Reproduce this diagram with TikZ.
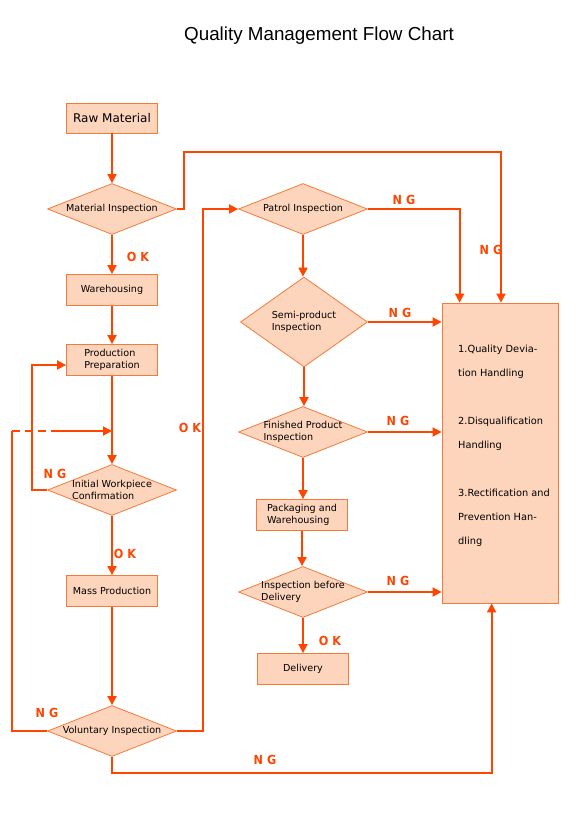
\documentclass[tikz,border=0pt]{standalone}
\usepackage{fontspec}
\setmainfont{DejaVu Sans}
\newfontfamily\titlefont{Liberation Sans}
\newfontfamily\tagfont{DejaVu Sans Condensed}
\usetikzlibrary{shapes.geometric,arrows.meta}
\definecolor{flowred}{HTML}{FF4500}
\definecolor{boxfill}{HTML}{FDD5BC}
\definecolor{boxline}{HTML}{F47A3A}
\begin{document}
\begin{tikzpicture}[x=1pt,y=-1pt,
  stepbox/.style={draw=boxline, fill=boxfill, line width=0.8pt, minimum width=91pt,
    minimum height=31pt, inner sep=1pt, align=left, font=\fontsize{9.6}{12}\selectfont},
  check/.style={diamond, draw=boxline, fill=boxfill, line width=0.8pt, minimum width=129pt,
    minimum height=51pt, aspect=2.5, inner sep=-10pt, align=left, font=\fontsize{9.6}{12}\selectfont},
  link/.style={draw=flowred, line width=1.8pt},
  flow/.style={link, -{Triangle[length=9pt,width=9pt]}},
  tag/.style={text=flowred, font=\tagfont\bfseries\fontsize{12.5}{13}\selectfont}]
  \useasboundingbox (0,0) rectangle (580,820);
  \node (title) at (319,36) {\titlefont\fontsize{18.8}{19}\selectfont Quality Management Flow Chart};

  % left column
  \node[stepbox, minimum height=30pt, font=\fontsize{12}{14}\selectfont] (raw) at (112,118) {Raw Material};
  \node[check] (matinsp) at (112,209) {Material Inspection};
  \node[stepbox] (wareh) at (112,290) {Warehousing};
  \node[stepbox] (prodprep) at (112,360) {Production\\Preparation};
  \node[check] (initwp) at (112,490) {Initial Workpiece\\Confirmation};
  \node[stepbox] (massprod) at (112,591) {Mass Production};
  \node[check] (volinsp) at (112,731) {Voluntary Inspection};

  % middle column
  \node[check] (patrol) at (303,209) {Patrol Inspection};
  \node[check, minimum width=127pt, minimum height=90pt] (semiprod) at (304,322) {Semi-product\\Inspection};
  \node[check] (finprod) at (303,432) {Finished Product\\Inspection};
  \node[stepbox] (packw) at (302,515) {Packaging and\\Warehousing};
  \node[check] (predeliv) at (303,592) {Inspection before\\Delivery};
  \node[stepbox] (deliv) at (303,669) {Delivery};

  % handling box
  \node[stepbox, minimum width=116pt, minimum height=300pt] (handle) at (500,453) {};
  \node[anchor=north west, inner sep=0pt, align=left, font=\fontsize{9.8}{24}\selectfont] (handletext) at (458,345)
    {1.Quality Devia-\\tion Handling\\[24pt]2.Disqualification\\Handling\\[24pt]3.Rectification and\\Prevention Han-\\dling};

  % main flow
  \draw[flow] (raw) -- (matinsp);
  \draw[flow] (matinsp) -- (wareh);
  \draw[flow] (wareh) -- (prodprep);
  \draw[flow] (prodprep) -- (initwp);
  \draw[flow] (initwp) -- (massprod);
  \draw[flow] (massprod) -- (volinsp);
  \draw[flow] (patrol.south) -- (patrol.south |- semiprod.north);
  \draw[flow] (semiprod.south) -- (semiprod.south |- finprod.north);
  \draw[flow] (finprod.south) -- (finprod.south |- packw.north);
  \draw[flow] (packw.south) -- (packw.south |- predeliv.north);
  \draw[flow] (predeliv) -- (deliv);

  % loops
  \draw[flow] (initwp.west) -- ++(-15,0) |- ([yshift=-5pt]prodprep.west);
  \coordinate (loopcorner) at (12,431);
  \coordinate (dashend) at (52,431);
  \coordinate (merge) at (112,431);
  \draw[link] (volinsp.west) -| (loopcorner);
  \draw[link, dash pattern=on 8pt off 5pt] (loopcorner) -- (dashend);
  \draw[flow] (dashend) -- (merge);
  \draw[flow] (volinsp.east) -- ++(26,0) |- (patrol.west);
  \draw[flow] (volinsp.south) -- ++(0,16) -| ([xshift=50pt]handle.south west);

  % NG to handling
  \coordinate (ngtop) at (501,152);
  \draw[flow] (matinsp.east) -- ++(7,0) |- (ngtop) -- (ngtop |- handle.north);
  \draw[flow] (patrol.east) -| ([xshift=18pt]handle.north west);
  \draw[flow] (semiprod.east) -- (semiprod.east -| handle.west);
  \draw[flow] (finprod.east) -- (finprod.east -| handle.west);
  \draw[flow] (predeliv.east) -- (predeliv.east -| handle.west);

  % labels
  \node[tag] (ok1) at (138,257) {O K};
  \node[tag] (ng1) at (55,474) {N G};
  \node[tag] (ok2) at (125,554) {O K};
  \node[tag] (ng2) at (47,713) {N G};
  \node[tag] (ok3) at (190,428) {O K};
  \node[tag] (ng3) at (265,760) {N G};
  \node[tag] (ng4) at (404,200) {N G};
  \node[tag] (ng5) at (491,250) {N G};
  \node[tag] (ng6) at (400,313) {N G};
  \node[tag] (ng7) at (398,421) {N G};
  \node[tag] (ng8) at (398,581) {N G};
  \node[tag] (ok4) at (330,641) {O K};
\end{tikzpicture}
\end{document}
